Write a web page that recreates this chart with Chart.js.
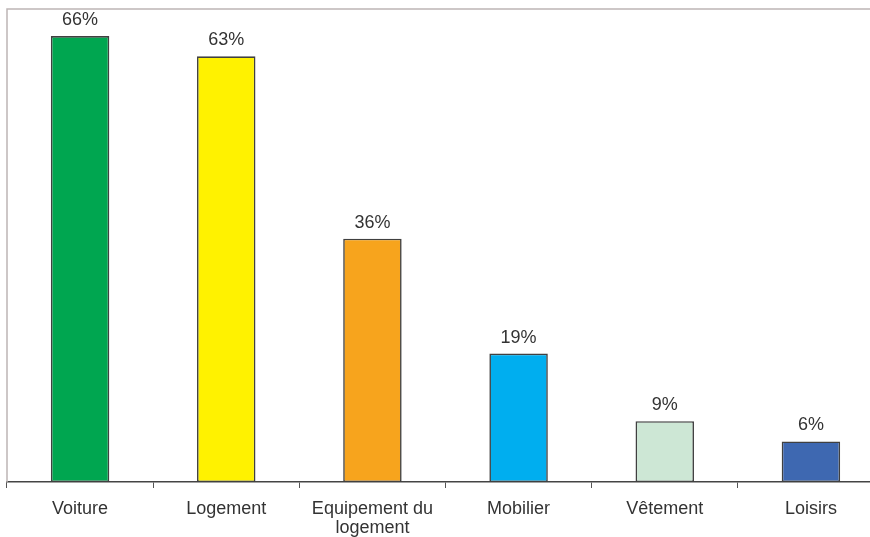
<!DOCTYPE html>
<html>
<head>
<meta charset="utf-8">
<script src="https://cdn.jsdelivr.net/npm/chart.js@4.4.0/dist/chart.umd.min.js"></script>
<style>
html,body{margin:0;padding:0;overflow:hidden;background:#fff;}
#wrap{position:relative;width:884px;height:537px;}
</style>
</head>
<body>
<div id="wrap"><canvas id="c"></canvas></div>
<script>
const categories = ["Voiture", "Logement", ["Equipement du", "logement"], "Mobilier", "Vêtement", "Loisirs"];
const values = [66, 63, 36, 19, 9, 6];
const barColors = ["#00A650", "#FFF200", "#F7A41D", "#00AEEF", "#CDE7D5", "#3E68B1"];
const yMax = 70;

const frame = {
  id: 'frame',
  beforeDatasetsDraw(chart) {
    const {ctx, chartArea: a} = chart;
    ctx.save();
    ctx.strokeStyle = '#BDB5B5';
    ctx.lineWidth = 1.5;
    ctx.beginPath();
    ctx.moveTo(a.left, a.bottom);
    ctx.lineTo(a.left, a.top);
    ctx.lineTo(chart.width, a.top);
    ctx.stroke();
    ctx.restore();
  }
};

const valueLabels = {
  id: 'valueLabels',
  afterDatasetsDraw(chart) {
    const {ctx} = chart;
    const meta = chart.getDatasetMeta(0);
    ctx.save();
    ctx.font = '18px "Liberation Sans", Arial, sans-serif';
    ctx.fillStyle = '#333333';
    ctx.textAlign = 'center';
    ctx.textBaseline = 'middle';
    meta.data.forEach((bar, i) => {
      ctx.fillText(values[i] + '%', bar.x, bar.y - 16);
    });
    ctx.restore();
  }
};

new Chart(document.getElementById('c'), {
  type: 'bar',
  data: {
    labels: categories,
    datasets: [{
      data: values,
      backgroundColor: barColors,
      borderColor: '#404040',
      borderWidth: 1.6,
      borderSkipped: false,
      barPercentage: 0.4,
      categoryPercentage: 1.0
    }]
  },
  options: {
    responsive: true,
    maintainAspectRatio: false,
    animation: false,
    devicePixelRatio: 1,
    layout: {padding: {left: 7, top: 9, right: 0, bottom: 0}},
    plugins: {legend: {display: false}, tooltip: {enabled: false}},
    scales: {
      x: {
        offset: true,
        afterFit(scale) { scale.height = 55; },
        grid: {offset: true, drawOnChartArea: false, drawTicks: true, tickLength: 6, color: '#555555', lineWidth: 1},
        border: {display: true, color: '#444444', width: 1.5},
        ticks: {
          maxRotation: 0, minRotation: 0, autoSkip: false, padding: 11,
          color: '#333333',
          font: {family: '"Liberation Sans", Arial, sans-serif', size: 18, lineHeight: 1.06}
        }
      },
      y: {
        display: false,
        min: 0,
        max: yMax
      }
    }
  },
  plugins: [frame, valueLabels]
});
</script>
</body>
</html>
